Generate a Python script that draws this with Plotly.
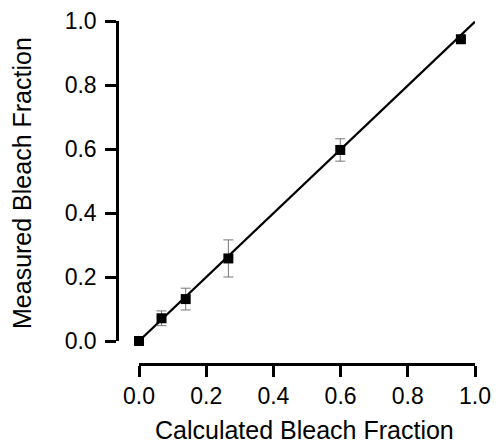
import plotly.graph_objects as go

calc = [0.0, 0.067, 0.139, 0.266, 0.599, 0.958]
meas = [0.0, 0.071, 0.131, 0.258, 0.597, 0.943]
err = [0.0, 0.023, 0.034, 0.058, 0.035, 0.0]
fit_x = [0.0, 1.0]
fit_y = [0.0, 0.998]
ticks = [0.0, 0.2, 0.4, 0.6, 0.8, 1.0]
tick_text = ["0.0", "0.2", "0.4", "0.6", "0.8", "1.0"]

W, H = 496, 443
FONT = "Liberation Sans, Arial, sans-serif"

fig = go.Figure()
fig.add_trace(go.Scatter(x=fit_x, y=fit_y, mode="lines",
                         line=dict(color="black", width=2.2),
                         cliponaxis=False, showlegend=False, hoverinfo="skip"))
fig.add_trace(go.Scatter(x=calc, y=meas, mode="markers",
                         marker=dict(symbol="square", size=10, color="black"),
                         error_y=dict(type="data", array=err, visible=True,
                                      color="#777777", thickness=1, width=5),
                         cliponaxis=False, showlegend=False))

axis_common = dict(
    showgrid=False, zeroline=False, showline=True, linecolor="black", linewidth=2.5,
    ticks="outside", ticklen=11, tickwidth=2.5, tickcolor="black",
    tickvals=ticks, ticktext=tick_text, range=[0, 1], anchor="free",
    automargin=False,
    tickfont=dict(family=FONT, size=23, color="black"),
)

fig.update_layout(
    width=W, height=H,
    margin=dict(l=0, r=0, t=0, b=0, pad=0, autoexpand=False),
    paper_bgcolor="white", plot_bgcolor="white",
    xaxis=dict(domain=[139 / W, 475 / W], position=(H - 364) / H,
               ticklabelstandoff=0, **axis_common),
    yaxis=dict(domain=[(H - 341) / H, (H - 21) / H], position=117 / W,
               ticklabelstandoff=4, **axis_common),
    annotations=[
        dict(text="Calculated Bleach Fraction", xref="paper", yref="paper",
             x=304 / W, y=(H - 430) / H, xanchor="center", yanchor="middle",
             showarrow=False, font=dict(family=FONT, size=25, color="black")),
        dict(text="Measured Bleach Fraction", xref="paper", yref="paper",
             x=22 / W, y=(H - 183) / H, xanchor="center", yanchor="middle",
             textangle=-90, showarrow=False,
             font=dict(family=FONT, size=25, color="black")),
    ],
)

fig.write_html("out.html")
